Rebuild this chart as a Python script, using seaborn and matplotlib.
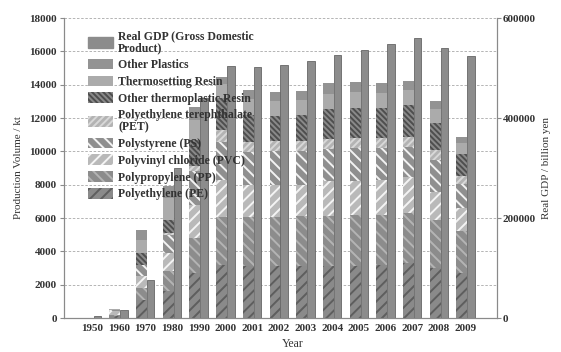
import numpy as np
import pandas as pd
import matplotlib
matplotlib.use('Agg')
import matplotlib.pyplot as plt
from matplotlib.patches import Patch
import seaborn as sns

# Data
years = ['1950', '1960', '1970', '1980', '1990', '2000', '2001', '2002',
         '2003', '2004', '2005', '2006', '2007', '2008', '2009']

# production volume by resin (kt), bottom of the stack first
pe = [0, 150, 1100, 1600, 2700, 3200, 3100, 3100, 3100, 3150, 3150, 3180, 3280, 3000, 2700]
pp = [0, 20, 700, 1200, 2100, 2880, 2980, 2950, 3000, 3000, 3050, 3000, 3000, 2880, 2550]
pvc = [10, 250, 700, 1100, 2000, 2200, 1900, 1950, 1900, 2050, 2050, 2100, 2200, 1700, 1350]
ps = [0, 40, 700, 1100, 2000, 2300, 2000, 2000, 2000, 1950, 1950, 1900, 1800, 1920, 1450]
pet = [0, 0, 0, 100, 300, 700, 600, 600, 650, 620, 620, 600, 600, 580, 500]
other_thermo = [0, 0, 680, 800, 1600, 1900, 1600, 1500, 1550, 1750, 1780, 1800, 1900, 1600, 1300]
thermosetting = [20, 80, 800, 1300, 1200, 850, 950, 950, 900, 950, 950, 950, 900, 850, 650]
other_plastics = [0, 0, 620, 700, 760, 450, 550, 530, 520, 610, 590, 550, 540, 510, 380]

# real GDP (billion yen), right axis
gdp = [4600, 16000, 76000, 300000, 441000, 504000, 503000, 506000, 514000,
       527000, 537000, 549000, 561000, 541000, 524000]

layers = [
    ('Polyethylene (PE)', pe, '#8a8a8a', '#5e5e5e', '///'),
    ('Polypropylene (PP)', pp, '#8c8c8c', '#b4b4b4', '\\\\\\'),
    ('Polyvinyl chloride (PVC)', pvc, '#b9b9b9', '#f4f4f4', '///'),
    ('Polystyrene (PS)', ps, '#8f8f8f', '#f2f2f2', '\\\\\\'),
    ('Polyethylene terephthalate\n(PET)', pet, '#b3b3b3', '#d8d8d8', '/////'),
    ('Other thermoplastic Resin', other_thermo, '#8a8a8a', '#4e4e4e', '\\\\\\\\\\\\'),
    ('Thermosetting Resin', thermosetting, '#ababab', '#ababab', ''),
    ('Other Plastics', other_plastics, '#939393', '#939393', ''),
]

sns.set_style('white')
plt.rcParams['font.family'] = ['Liberation Serif', 'DejaVu Serif']
plt.rcParams['font.weight'] = 'bold'
plt.rcParams['hatch.linewidth'] = 1.4

fig = plt.figure(figsize=(5.61, 3.52), dpi=100)
ax = fig.add_axes([64 / 561, 1 - 318 / 352, 433 / 561, 300 / 352])
ax2 = ax.twinx()

pos = np.arange(len(years))
bottom = np.zeros(len(years))
for name, vals, fc, hc, h in layers:
    df = pd.DataFrame({'pos': pos - 0.145, 'val': vals})
    sns.barplot(data=df, x='pos', y='val', native_scale=True, width=0.41,
                color=fc, saturation=1, errorbar=None, ax=ax,
                bottom=bottom, edgecolor=hc, linewidth=0, hatch=h, zorder=2)
    bottom += np.array(vals)

gdp_df = pd.DataFrame({'pos': pos + 0.2, 'gdp': gdp})
sns.barplot(data=gdp_df, x='pos', y='gdp', native_scale=True, width=0.28,
            color='#8c8c8c', saturation=1, errorbar=None, ax=ax2,
            edgecolor='#666666', linewidth=0.6, zorder=2)

# axes
ax.set_xlim(-1.05, 15.17)
ax.set_ylim(0, 18000)
ax2.set_ylim(0, 600000)
ax.set_yticks(np.arange(0, 18001, 2000))
ax2.set_yticks([0, 200000, 400000, 600000])
ax.set_xticks(pos)
ax.set_xticklabels(years)
ax.yaxis.grid(True, linestyle=(0, (3, 2)), color='#a8a8a8', linewidth=0.6, zorder=0)
ax.set_axisbelow(True)
for a in (ax, ax2):
    for s in a.spines.values():
        s.set_color('#8a8a8a')
        s.set_linewidth(0.8)
    a.spines['top'].set_visible(False)
ax.tick_params(axis='y', labelsize=8, length=3, pad=2, color='#8a8a8a', left=True)
ax.tick_params(axis='x', labelsize=8, length=0, pad=4)
ax2.tick_params(axis='y', labelsize=8, length=3, pad=1, color='#8a8a8a', right=True)
for a in (ax, ax2):
    for t in a.get_xticklabels() + a.get_yticklabels():
        t.set_color('#333333')

ax.set_xlabel('Year', fontsize=8.5, color='#333333')
ax.xaxis.set_label_coords(0.527, -0.067)
ax.set_ylabel('Production Volume / kt', fontsize=8, color='#333333')
ax.yaxis.set_label_coords(-0.094, 0.5)
ax2.set_ylabel('Real GDP / billion yen', fontsize=8, color='#333333')
ax2.yaxis.set_label_coords(1.105, 0.5)

# legend: GDP first, then the stack from top to bottom
handles = [Patch(facecolor='#8c8c8c', edgecolor='#8c8c8c', label='Real GDP (Gross Domestic\nProduct)')]
for name, vals, fc, hc, h in layers[::-1]:
    handles.append(Patch(facecolor=fc, edgecolor=hc, hatch=h, linewidth=0, label=name))
leg = ax2.legend(handles=handles, loc='upper left', bbox_to_anchor=(0.045, 0.975),
                 frameon=False, fontsize=8.5, handlelength=2.1, handleheight=1.0,
                 handletextpad=0.45, labelspacing=0.38, borderaxespad=0)
for t in leg.get_texts():
    t.set_color('#333333')
    t.set_linespacing(1.0)

fig.savefig('out.png', dpi=100)
